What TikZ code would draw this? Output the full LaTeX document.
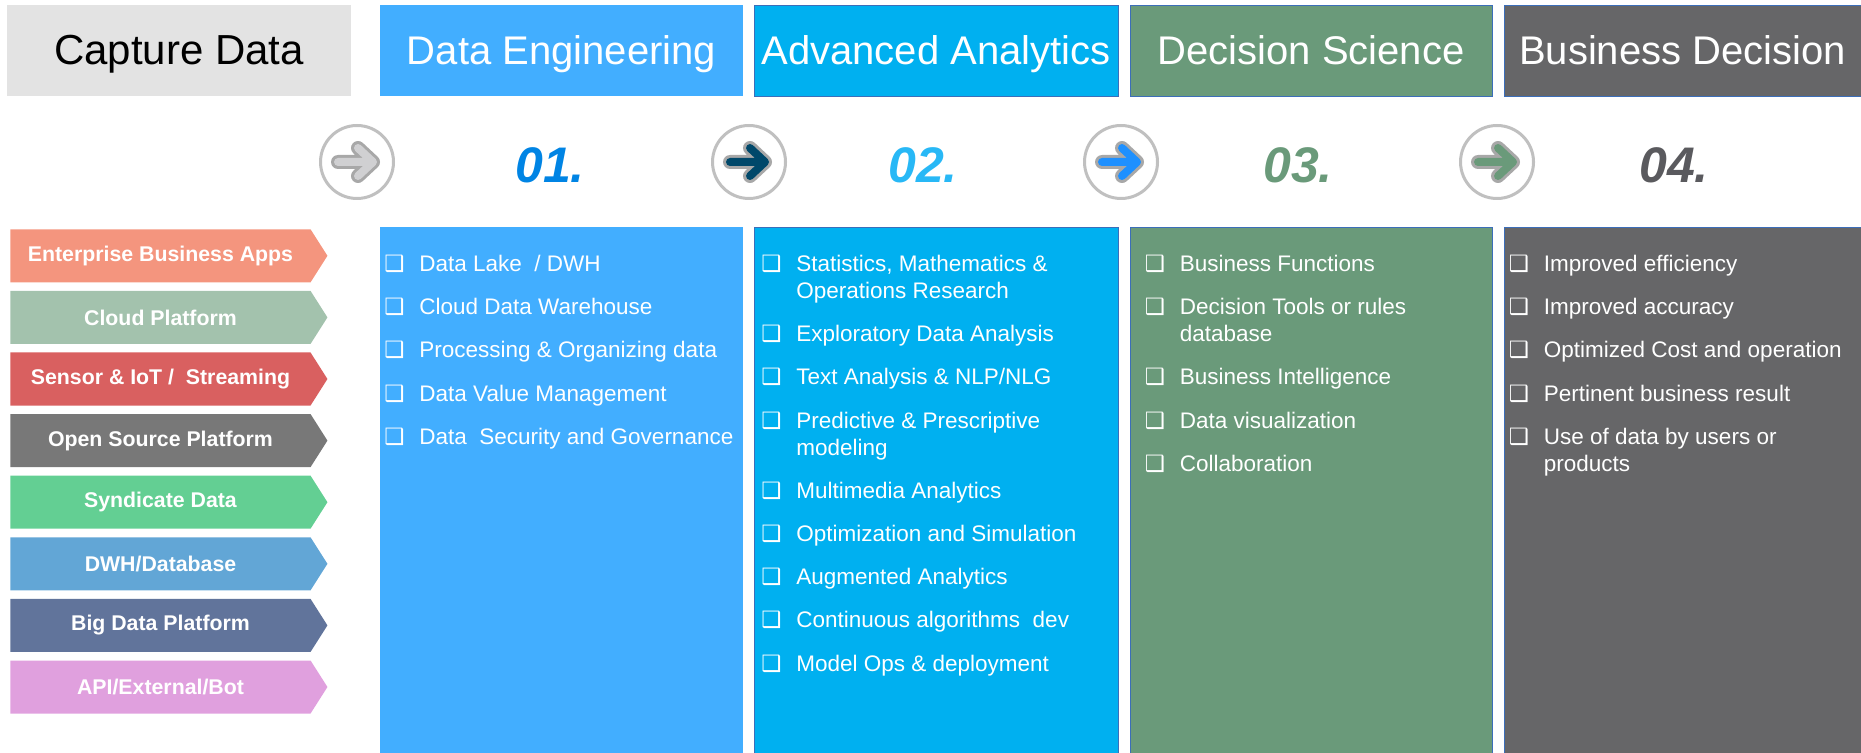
\documentclass[tikz,border=0pt]{standalone}
\usepackage{fontspec}
\setmainfont{Liberation Sans}
\newfontfamily\bulletfont{DejaVu Sans}
\usetikzlibrary{shapes.symbols}
\definecolor{capgray}{RGB}{227,227,227}
\definecolor{engblue}{RGB}{66,174,255}
\definecolor{anacyan}{RGB}{0,176,240}
\definecolor{scigreen}{RGB}{106,154,122}
\definecolor{busgray}{RGB}{102,102,104}
\definecolor{edgeblue}{RGB}{60,110,185}
\definecolor{numblue}{RGB}{0,132,228}
\definecolor{numcyan}{RGB}{40,184,246}
\definecolor{numgray}{RGB}{90,90,94}
\definecolor{ringgray}{RGB}{192,192,192}
\definecolor{arrowedge}{RGB}{168,168,168}
\definecolor{arrowlight}{RGB}{208,208,210}
\definecolor{arrowdark}{RGB}{0,72,106}
\definecolor{arrowblue}{RGB}{30,144,255}
\definecolor{srcsalmon}{RGB}{244,149,126}
\definecolor{srcsage}{RGB}{163,194,173}
\definecolor{srcred}{RGB}{217,96,96}
\definecolor{srcgray}{RGB}{120,120,120}
\definecolor{srcgreen}{RGB}{99,207,147}
\definecolor{srcblue}{RGB}{98,166,214}
\definecolor{srcnavy}{RGB}{97,116,155}
\definecolor{srcpink}{RGB}{224,160,222}

\newcommand{\chk}{\makebox[17.5pt][l]{\bulletfont ❑}}
\newcommand{\ind}{\hspace*{17.5pt}}
\newcommand{\ringarrow}[2]{%
  \begin{scope}[shift={(#1.center)}]
    \draw[arrowedge,line width=7pt,line cap=round,line join=round] (-19,0) -- (16,0) (1,-14) -- (16,0) -- (1,14);
    \draw[#2,line width=4pt,line cap=round,line join=round] (-19,0) -- (16,0) (1,-14) -- (16,0) -- (1,14);
  \end{scope}}

\begin{document}
\begin{tikzpicture}[x=0.5pt,y=-0.5pt,
  head/.style={minimum height=45.5pt,inner sep=0pt,text height=16pt,text depth=1.5pt,text=white,font=\fontsize{20}{24}\selectfont},
  body/.style={minimum height=263pt,inner sep=0pt},
  ring/.style={circle,draw=ringgray,line width=1.5pt,fill=white,minimum size=36.5pt,inner sep=0pt},
  num/.style={font=\fontsize{25}{30}\selectfont\bfseries\itshape},
  src/.style={signal,signal to=east,signal pointer angle=115,minimum width=158.5pt,minimum height=26.5pt,inner sep=0pt,text=white,font=\fontsize{10.65}{13}\selectfont\bfseries},
  item/.style={anchor=base west,align=left,inner sep=0pt,text=white,font=\fontsize{11.25}{13.5}\selectfont}]
\useasboundingbox (0,0) rectangle (1861,753);

\node[head,fill=capgray,text=black,minimum width=172pt,font=\fontsize{21}{25}\selectfont] (cap) at (179,50.5) {Capture Data};
\node[head,fill=engblue,minimum width=181.5pt] (deng) at (561.5,50.5) {Data Engineering};
\node[head,fill=anacyan,draw=edgeblue,minimum width=182pt] (aana) at (936,50.5) {Advanced Analytics};
\node[head,fill=scigreen,draw=edgeblue,minimum width=181pt] (dsci) at (1311,50.5) {Decision Science};
\node[head,fill=busgray,draw=edgeblue,minimum width=178.5pt] (bdec) at (1682.5,50.5) {Business Decision};

\node[body,fill=engblue,minimum width=181.5pt] (engbody) at (561.5,490) {};
\node[body,fill=anacyan,draw=edgeblue,minimum width=182pt] (anabody) at (936,490) {};
\node[body,fill=scigreen,draw=edgeblue,minimum width=181pt] (scibody) at (1311,490) {};
\node[body,fill=busgray,draw=edgeblue,minimum width=178.5pt] (busbody) at (1682.5,490) {};

\node[ring] (r1) at (357,162) {};
\node[ring] (r2) at (749,162) {};
\node[ring] (r3) at (1121,162) {};
\node[ring] (r4) at (1497,162) {};
\ringarrow{r1}{arrowlight}
\ringarrow{r2}{arrowdark}
\ringarrow{r3}{arrowblue}
\ringarrow{r4}{scigreen}

\node[num,text=numblue] (n1) at (550,165.5) {01.};
\node[num,text=numcyan] (n2) at (923,165.5) {02.};
\node[num,text=scigreen] (n3) at (1298,165.5) {03.};
\node[num,text=numgray] (n4) at (1674,165.5) {04.};

\node[src,fill=srcsalmon] (apps) at (160.5,255.8) {Enterprise Business Apps};
\node[src,fill=srcsage] (cloud) at (160.5,317.4) {Cloud Platform};
\node[src,fill=srcred] (iot) at (160.5,379.0) {Sensor \& IoT / \ Streaming};
\node[src,fill=srcgray] (oss) at (160.5,440.6) {Open Source Platform};
\node[src,fill=srcgreen] (synd) at (160.5,502.2) {Syndicate Data};
\node[src,fill=srcblue] (dwh) at (160.5,563.8) {DWH/Database};
\node[src,fill=srcnavy] (bigd) at (160.5,625.4) {Big Data Platform};
\node[src,fill=srcpink] (api) at (160.5,687.0) {API/External/Bot};

\node[item] (e1) at (384,271.5) {\chk Data Lake \ / DWH};
\node[item] (e2) at (384,314.7) {\chk Cloud Data Warehouse};
\node[item] (e3) at (384,357.9) {\chk Processing \& Organizing data};
\node[item] (e4) at (384,401.1) {\chk Data Value Management};
\node[item] (e5) at (384,444.3) {\chk Data \ Security and Governance};

\node[item] (a1) at (761,298.5) {\chk Statistics, Mathematics \&\\\ind Operations Research};
\node[item] (a2) at (761,341.7) {\chk Exploratory Data Analysis};
\node[item] (a3) at (761,384.9) {\chk Text Analysis \& NLP/NLG};
\node[item] (a4) at (761,455.1) {\chk Predictive \& Prescriptive\\\ind modeling};
\node[item] (a5) at (761,498.3) {\chk Multimedia Analytics};
\node[item] (a6) at (761,541.5) {\chk Optimization and Simulation};
\node[item] (a7) at (761,584.7) {\chk Augmented Analytics};
\node[item] (a8) at (761,627.9) {\chk Continuous algorithms \ dev};
\node[item] (a9) at (761,671.1) {\chk Model Ops \& deployment};

\node[item] (s1) at (1144.5,271.5) {\chk Business Functions};
\node[item] (s2) at (1144.5,341.7) {\chk Decision Tools or rules\\\ind database};
\node[item] (s3) at (1144.5,384.9) {\chk Business Intelligence};
\node[item] (s4) at (1144.5,428.1) {\chk Data visualization};
\node[item] (s5) at (1144.5,471.3) {\chk Collaboration};

\node[item] (b1) at (1508.5,271.5) {\chk Improved efficiency};
\node[item] (b2) at (1508.5,314.7) {\chk Improved accuracy};
\node[item] (b3) at (1508.5,357.9) {\chk Optimized Cost and operation};
\node[item] (b4) at (1508.5,401.1) {\chk Pertinent business result};
\node[item] (b5) at (1508.5,471.3) {\chk Use of data by users or\\\ind products};
\end{tikzpicture}
\end{document}
